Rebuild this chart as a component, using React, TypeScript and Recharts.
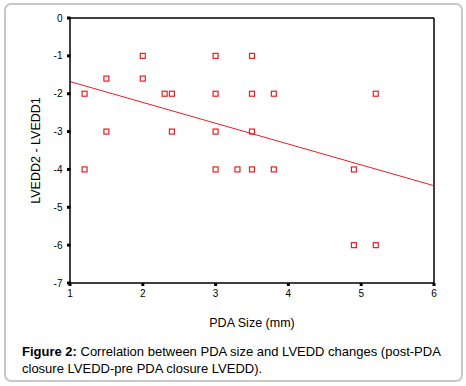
import React from 'react';
import { ScatterChart, Scatter, XAxis, YAxis, ReferenceLine } from 'recharts';

const pdaSize = [1.2, 1.2, 1.5, 1.5, 2.0, 2.0, 2.3, 2.4, 2.4, 3.0, 3.0, 3.0, 3.0, 3.3, 3.5, 3.5, 3.5, 3.5, 3.8, 3.8, 4.9, 4.9, 5.2, 5.2];
const lveddChange = [-2, -4, -1.6, -3, -1, -1.6, -2, -2, -3, -1, -2, -3, -4, -4, -1, -2, -3, -4, -2, -4, -4, -6, -2, -6];
const fitX = [1, 6];
const fitY = [-1.68, -4.43];
const xTicks = [1, 2, 3, 4, 5, 6];
const yTicks = [0, -1, -2, -3, -4, -5, -6, -7];

const points = pdaSize.map((x, i) => ({ x, y: lveddChange[i] }));

const RED = '#ec1c24';
const FONT = '"Liberation Sans", Arial, sans-serif';

const Square = (props: any) => {
  const { cx, cy } = props;
  if (cx == null || cy == null) return null;
  return <rect x={cx - 2.5} y={cy - 2.5} width={5} height={5} fill="none" stroke={RED} strokeWidth={1.2} />;
};

const XTick = (props: any) => {
  const { x, y, payload } = props;
  return (
    <g>
      <rect x={x - 1.5} y={y - 8} width={3} height={3} fill="#000" />
      <text x={x} y={y + 5.5} textAnchor="middle" fontSize={10} fontFamily={FONT} fill="#000">{payload.value}</text>
    </g>
  );
};

const YTick = (props: any) => {
  const { x, y, payload } = props;
  return (
    <g>
      <rect x={x + 4} y={y - 1.5} width={3.5} height={3} fill="#000" />
      <text x={x - 0.5} y={y + 3.5} textAnchor="end" fontSize={10} fontFamily={FONT} fill="#000">{payload.value}</text>
    </g>
  );
};

const capStyle: React.CSSProperties = { position: 'absolute', fontSize: 13, lineHeight: '16px', color: '#000', whiteSpace: 'nowrap' };

export default function App() {
  return (
    <div style={{ position: 'fixed', left: 0, top: 0, width: 466, height: 386, background: '#fff', fontFamily: FONT }}>
      <div style={{ position: 'absolute', left: 4, top: 3, width: 455, height: 375, border: '2px solid #c8c8c8', borderRadius: 7 }} />
      <div style={{ position: 'absolute', left: 0, top: 0 }}>
        <ScatterChart width={466} height={386} margin={{ top: 18, right: 32, left: 0, bottom: 0 }}>
          <XAxis
            type="number"
            dataKey="x"
            domain={[1, 6]}
            ticks={xTicks}
            height={103}
            axisLine={{ stroke: '#000', strokeWidth: 1.5 }}
            tickLine={false}
            tickSize={0}
            tickMargin={8}
            tick={<XTick />}
            interval={0}
            label={{ value: 'PDA Size (mm)', position: 'insideTop', offset: 35, fontSize: 12.5, fontFamily: FONT, fill: '#000' }}
          />
          <YAxis
            type="number"
            dataKey="y"
            domain={[-7, 0]}
            ticks={yTicks}
            width={70}
            axisLine={{ stroke: '#000', strokeWidth: 1.5 }}
            tickLine={false}
            tickSize={0}
            tickMargin={7}
            tick={<YTick />}
            interval={0}
            label={{ value: 'LVEDD2 - LVEDD1', angle: -90, position: 'insideLeft', offset: 36, fontSize: 12.5, fontFamily: FONT, fill: '#000', style: { textAnchor: 'middle' } }}
          />
          <ReferenceLine y={0} stroke="#000" strokeWidth={1.5} />
          <ReferenceLine x={6} stroke="#000" strokeWidth={1.5} />
          <ReferenceLine
            segment={[{ x: fitX[0], y: fitY[0] }, { x: fitX[1], y: fitY[1] }]}
            stroke={RED}
            strokeWidth={1}
          />
          <Scatter data={points} shape={<Square />} isAnimationActive={false} />
        </ScatterChart>
      </div>
      <div style={{ ...capStyle, left: 22, top: 344, fontWeight: 'bold' }}>Figure 2:</div>
      <div style={{ ...capStyle, left: 80.5, top: 344 }}>Correlation between PDA size and LVEDD changes (post-PDA</div>
      <div style={{ ...capStyle, left: 22, top: 360.5 }}>closure LVEDD-pre PDA closure LVEDD).</div>
    </div>
  );
}
